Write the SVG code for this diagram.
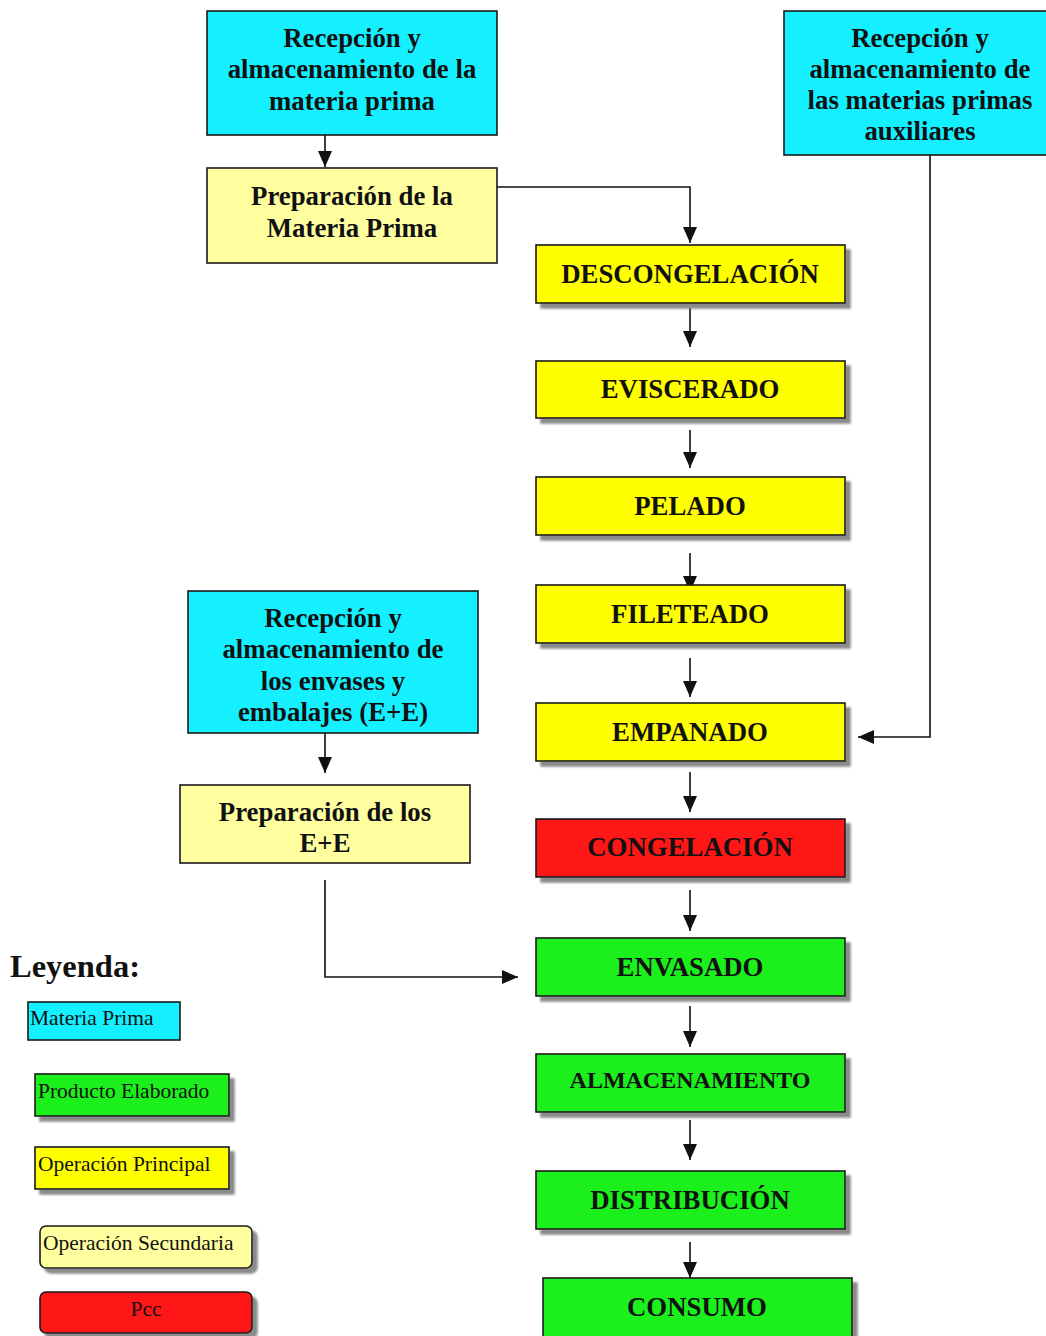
<svg xmlns="http://www.w3.org/2000/svg" width="1046" height="1336" viewBox="0 0 1046 1336">
  <style>
    .box { stroke: #1a1a1a; stroke-width: 1.6; }
    .mp { fill: #14F0FF; }
    .op { fill: #FFFF05; }
    .os { fill: #FFFFA0; }
    .pe { fill: #1EF01E; }
    .pcc { fill: #FF1414; }
    .t { font-family: "Liberation Serif", "Times New Roman", serif; font-weight: bold; font-size: 26.8px; fill: #111; text-anchor: middle; }
    .tm { font-family: "Liberation Serif", "Times New Roman", serif; font-weight: bold; font-size: 26.8px; fill: #111; text-anchor: middle; }
    .lg { font-family: "Liberation Serif", "Times New Roman", serif; font-size: 21.5px; fill: #111; }
    .edge { fill: none; stroke: #111; stroke-width: 1.6; marker-end: url(#arrow); }
  </style>
  <defs>
    <marker id="arrow" viewBox="0 0 16 14" refX="16" refY="7" markerWidth="16" markerHeight="14" markerUnits="userSpaceOnUse" orient="auto">
      <path d="M0,0 L16,7 L0,14 z" fill="#111"/>
    </marker>
    <filter id="shadow" x="-5%" y="-20%" width="115%" height="150%">
      <feDropShadow dx="5" dy="5" stdDeviation="1.2" flood-color="#777" flood-opacity="0.85"/>
    </filter>
    <clipPath id="clipEE">
      <rect x="188" y="591" width="290" height="142"/>
    </clipPath>
  </defs>
  <rect width="1046" height="1336" fill="#ffffff"/>

  <!-- connectors -->
  <g id="connectors">
    <line class="edge" x1="325" y1="135" x2="325" y2="167"/>
    <polyline class="edge" points="497,187 690,187 690,243"/>
    <polyline class="edge" points="930,155 930,737 858,737"/>
    <line class="edge" x1="325" y1="733" x2="325" y2="773"/>
    <polyline class="edge" points="325,880 325,977 518,977"/>
    <line class="edge" x1="690" y1="308" x2="690" y2="347"/>
    <line class="edge" x1="690" y1="430" x2="690" y2="468"/>
    <line class="edge" x1="690" y1="553" x2="690" y2="592"/>
    <line class="edge" x1="690" y1="658" x2="690" y2="697"/>
    <line class="edge" x1="690" y1="772" x2="690" y2="812"/>
    <line class="edge" x1="690" y1="890" x2="690" y2="931"/>
    <line class="edge" x1="690" y1="1006" x2="690" y2="1047"/>
    <line class="edge" x1="690" y1="1120" x2="690" y2="1160"/>
    <line class="edge" x1="690" y1="1242" x2="690" y2="1278"/>
  </g>

  <!-- raw material reception -->
  <g id="recepcion-mp">
    <rect class="box mp" x="207" y="11" width="290" height="124"/>
    <text class="t" x="352" y="47">Recepción y</text>
    <text class="t" x="352" y="78">almacenamiento de la</text>
    <text class="t" x="352" y="110">materia prima</text>
  </g>
  <g id="preparacion-mp">
    <rect class="box os" x="207" y="168" width="290" height="95"/>
    <text class="t" x="352" y="205">Preparación de la</text>
    <text class="t" x="352" y="237">Materia Prima</text>
  </g>

  <!-- auxiliary raw materials -->
  <g id="recepcion-aux">
    <rect class="box mp" x="784" y="11" width="280" height="144"/>
    <text class="t" x="920" y="47">Recepción y</text>
    <text class="t" x="920" y="78">almacenamiento de</text>
    <text class="t" x="920" y="109">las materias primas</text>
    <text class="t" x="920" y="140">auxiliares</text>
  </g>

  <!-- packaging -->
  <g id="recepcion-ee">
    <rect class="box mp" x="188" y="591" width="290" height="142"/>
    <g clip-path="url(#clipEE)">
      <text class="t" x="333" y="627">Recepción y</text>
      <text class="t" x="333" y="658">almacenamiento de</text>
      <text class="t" x="333" y="690">los envases y</text>
      <text class="t" x="333" y="721">embalajes (E+E)</text>
    </g>
  </g>
  <g id="preparacion-ee">
    <rect class="box os" x="180" y="785" width="290" height="78"/>
    <text class="t" x="325" y="821">Preparación de los</text>
    <text class="t" x="325" y="852">E+E</text>
  </g>

  <!-- main process line -->
  <g id="descongelacion">
    <rect class="box op" filter="url(#shadow)" x="536" y="245" width="309" height="58"/>
    <text class="tm" x="690" y="283">DESCONGELACIÓN</text>
  </g>
  <g id="eviscerado">
    <rect class="box op" filter="url(#shadow)" x="536" y="361" width="309" height="57"/>
    <text class="tm" x="690" y="398">EVISCERADO</text>
  </g>
  <g id="pelado">
    <rect class="box op" filter="url(#shadow)" x="536" y="477" width="309" height="58"/>
    <text class="tm" x="690" y="515">PELADO</text>
  </g>
  <g id="fileteado">
    <rect class="box op" filter="url(#shadow)" x="536" y="585" width="309" height="58"/>
    <text class="tm" x="690" y="623">FILETEADO</text>
  </g>
  <g id="empanado">
    <rect class="box op" filter="url(#shadow)" x="536" y="703" width="309" height="58"/>
    <text class="tm" x="690" y="741">EMPANADO</text>
  </g>
  <g id="congelacion">
    <rect class="box pcc" filter="url(#shadow)" x="536" y="819" width="309" height="58"/>
    <text class="tm" x="690" y="856">CONGELACIÓN</text>
  </g>
  <g id="envasado">
    <rect class="box pe" filter="url(#shadow)" x="536" y="938" width="309" height="58"/>
    <text class="tm" x="690" y="976">ENVASADO</text>
  </g>
  <g id="almacenamiento">
    <rect class="box pe" filter="url(#shadow)" x="536" y="1054" width="309" height="58"/>
    <text class="tm" x="690" y="1088" style="font-size:24px">ALMACENAMIENTO</text>
  </g>
  <g id="distribucion">
    <rect class="box pe" filter="url(#shadow)" x="536" y="1171" width="309" height="58"/>
    <text class="tm" x="690" y="1209">DISTRIBUCIÓN</text>
  </g>
  <g id="consumo">
    <rect class="box pe" filter="url(#shadow)" x="543" y="1278" width="309" height="70"/>
    <text class="tm" x="697" y="1316">CONSUMO</text>
  </g>

  <!-- legend -->
  <g id="leyenda">
    <text x="10" y="977" font-family="Liberation Serif, Times New Roman, serif" font-weight="bold" font-size="32.5" fill="#111">Leyenda:</text>
    <rect class="box mp" x="28" y="1002" width="152" height="38" stroke-width="2"/>
    <text class="lg" x="30" y="1025">Materia Prima</text>
    <rect class="box pe" filter="url(#shadow)" x="35" y="1074" width="194" height="42" stroke-width="2.4"/>
    <text class="lg" x="38" y="1098">Producto Elaborado</text>
    <rect class="box op" filter="url(#shadow)" x="35" y="1147" width="194" height="42" stroke-width="2.4"/>
    <text class="lg" x="38" y="1171">Operación Principal</text>
    <rect class="box os" filter="url(#shadow)" x="40" y="1226" width="212" height="42" rx="6"/>
    <text class="lg" x="43" y="1250">Operación Secundaria</text>
    <rect class="box pcc" filter="url(#shadow)" x="40" y="1292" width="212" height="41" rx="6"/>
    <text class="lg" x="146" y="1316" text-anchor="middle">Pcc</text>
  </g>
</svg>
